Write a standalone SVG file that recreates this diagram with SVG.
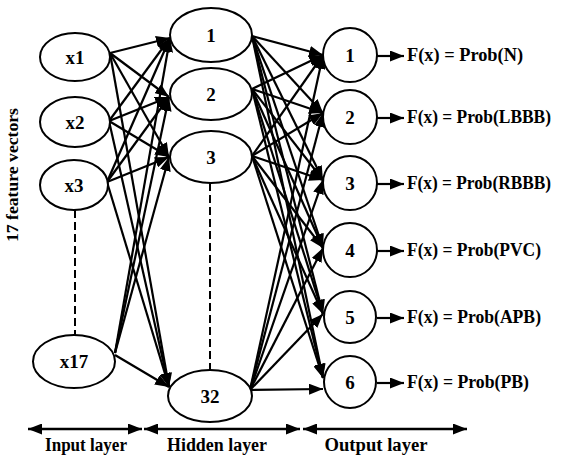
<svg xmlns="http://www.w3.org/2000/svg" width="563" height="458" viewBox="0 0 563 458">
  <defs>
    <marker id="ah" viewBox="0 0 14 11" refX="14" refY="5.5" markerWidth="14" markerHeight="11" markerUnits="userSpaceOnUse" orient="auto-start-reverse">
      <path d="M0,0 L14,5.5 L0,11 z" fill="#000"/>
    </marker>
    <marker id="ahs" viewBox="0 0 14 11" refX="14" refY="5.5" markerWidth="14" markerHeight="11" markerUnits="userSpaceOnUse" orient="auto-start-reverse">
      <path d="M0,0 L14,5.5 L0,11 z" fill="#000"/>
    </marker>
  </defs>
  <style>
    .node { fill: #fff; stroke: #000; stroke-width: 2; }
    text { font-family: "Liberation Serif", serif; font-weight: bold; fill: #000; }
    .lbl { font-size: 19px; text-anchor: middle; }
    .out { font-size: 18px; }
    .layer { font-size: 18px; text-anchor: middle; }
    .edge { stroke: #000; stroke-width: 2.2; fill: none; marker-end: url(#ah); }
    .dash { stroke: #000; stroke-width: 2; stroke-dasharray: 8 4; fill: none; }
    .axis { stroke: #000; stroke-width: 2.5; fill: none; marker-start: url(#ahs); marker-end: url(#ahs); }
  </style>
  <rect width="563" height="458" fill="#fff"/>

  <!-- connectors -->
  <g id="connectors">
    <!-- input to hidden -->
    <line class="edge" x1="110" y1="53" x2="170" y2="38"/>
    <line class="edge" x1="110" y1="53" x2="169" y2="97"/>
    <line class="edge" x1="110" y1="53" x2="169" y2="157"/>
    <line class="edge" x1="110" y1="53" x2="169" y2="387"/>
    <line class="edge" x1="109" y1="121" x2="170" y2="38"/>
    <line class="edge" x1="109" y1="121" x2="169" y2="97"/>
    <line class="edge" x1="109" y1="121" x2="169" y2="157"/>
    <line class="edge" x1="109" y1="121" x2="169" y2="387"/>
    <line class="edge" x1="107" y1="182" x2="170" y2="38"/>
    <line class="edge" x1="107" y1="182" x2="169" y2="97"/>
    <line class="edge" x1="107" y1="182" x2="169" y2="157"/>
    <line class="edge" x1="107" y1="182" x2="169" y2="387"/>
    <line class="edge" x1="115" y1="353" x2="170" y2="38"/>
    <line class="edge" x1="115" y1="353" x2="169" y2="97"/>
    <line class="edge" x1="115" y1="353" x2="169" y2="157"/>
    <line class="edge" x1="115" y1="355" x2="169" y2="387"/>
    <!-- hidden to output -->
    <line class="edge" x1="252" y1="36" x2="323" y2="55"/>
    <line class="edge" x1="252" y1="36" x2="323" y2="113"/>
    <line class="edge" x1="252" y1="36" x2="323" y2="180"/>
    <line class="edge" x1="252" y1="36" x2="323" y2="248"/>
    <line class="edge" x1="252" y1="36" x2="323" y2="314"/>
    <line class="edge" x1="252" y1="36" x2="323" y2="378"/>
    <line class="edge" x1="252" y1="89" x2="323" y2="55"/>
    <line class="edge" x1="252" y1="89" x2="323" y2="113"/>
    <line class="edge" x1="252" y1="89" x2="323" y2="180"/>
    <line class="edge" x1="252" y1="89" x2="323" y2="248"/>
    <line class="edge" x1="252" y1="89" x2="323" y2="314"/>
    <line class="edge" x1="252" y1="89" x2="323" y2="378"/>
    <line class="edge" x1="252" y1="156" x2="323" y2="55"/>
    <line class="edge" x1="252" y1="156" x2="323" y2="113"/>
    <line class="edge" x1="252" y1="156" x2="323" y2="180"/>
    <line class="edge" x1="252" y1="156" x2="323" y2="248"/>
    <line class="edge" x1="252" y1="156" x2="323" y2="314"/>
    <line class="edge" x1="252" y1="156" x2="323" y2="378"/>
    <line class="edge" x1="250" y1="390" x2="323" y2="55"/>
    <line class="edge" x1="250" y1="390" x2="323" y2="113"/>
    <line class="edge" x1="250" y1="390" x2="323" y2="180"/>
    <line class="edge" x1="250" y1="390" x2="323" y2="248"/>
    <line class="edge" x1="250" y1="390" x2="323" y2="314"/>
    <line class="edge" x1="250" y1="390" x2="323" y2="389"/>
    <!-- output arrows -->
    <line class="edge" x1="377" y1="56" x2="404" y2="56"/>
    <line class="edge" x1="377" y1="118" x2="404" y2="118"/>
    <line class="edge" x1="377" y1="184" x2="404" y2="184"/>
    <line class="edge" x1="377" y1="251" x2="404" y2="251"/>
    <line class="edge" x1="377" y1="318" x2="404" y2="318"/>
    <line class="edge" x1="377" y1="383" x2="404" y2="383"/>
    <!-- elided neurons -->
    <line class="dash" x1="75" y1="210" x2="75" y2="335"/>
    <line class="dash" x1="210" y1="183" x2="210" y2="370"/>
    <!-- layer spans -->
    <line class="axis" x1="28" y1="429" x2="142" y2="429"/>
    <line class="axis" x1="144" y1="429" x2="300" y2="429"/>
    <line class="axis" x1="303" y1="429" x2="467" y2="429"/>
  </g>

  <!-- input layer -->
  <g id="in-x1"><ellipse class="node" cx="75" cy="57" rx="35" ry="24"/><text class="lbl" x="75" y="63.5">x1</text></g>
  <g id="in-x2"><ellipse class="node" cx="75" cy="122" rx="35" ry="25"/><text class="lbl" x="75" y="128.5">x2</text></g>
  <g id="in-x3"><ellipse class="node" cx="74" cy="185" rx="34" ry="25"/><text class="lbl" x="74" y="191.5">x3</text></g>
  <g id="in-x17"><ellipse class="node" cx="74" cy="361.5" rx="41" ry="26.5"/><text class="lbl" x="74" y="368">x17</text></g>

  <!-- hidden layer -->
  <g id="hid-1"><ellipse class="node" cx="211" cy="35" rx="41" ry="27"/><text class="lbl" x="211" y="42">1</text></g>
  <g id="hid-2"><ellipse class="node" cx="211" cy="94" rx="41" ry="26"/><text class="lbl" x="211" y="101">2</text></g>
  <g id="hid-3"><ellipse class="node" cx="211" cy="157" rx="41" ry="26"/><text class="lbl" x="211" y="164">3</text></g>
  <g id="hid-32"><ellipse class="node" cx="210" cy="396" rx="42" ry="26"/><text class="lbl" x="210" y="403">32</text></g>

  <!-- output layer -->
  <g id="out-1"><circle class="node" cx="350" cy="55" r="27"/><text class="lbl" x="350" y="62">1</text><text class="out" x="407" y="61" textLength="116" lengthAdjust="spacingAndGlyphs">F(x) = Prob(N)</text></g>
  <g id="out-2"><circle class="node" cx="350" cy="117" r="27"/><text class="lbl" x="350" y="124">2</text><text class="out" x="407" y="123" textLength="144" lengthAdjust="spacingAndGlyphs">F(x) = Prob(LBBB)</text></g>
  <g id="out-3"><circle class="node" cx="350" cy="183" r="27"/><text class="lbl" x="350" y="190">3</text><text class="out" x="407" y="189" textLength="144" lengthAdjust="spacingAndGlyphs">F(x) = Prob(RBBB)</text></g>
  <g id="out-4"><circle class="node" cx="350" cy="250" r="27"/><text class="lbl" x="350" y="257">4</text><text class="out" x="407" y="256" textLength="134" lengthAdjust="spacingAndGlyphs">F(x) = Prob(PVC)</text></g>
  <g id="out-5"><circle class="node" cx="350" cy="317" r="26"/><text class="lbl" x="350" y="324">5</text><text class="out" x="407" y="323" textLength="134" lengthAdjust="spacingAndGlyphs">F(x) = Prob(APB)</text></g>
  <g id="out-6"><circle class="node" cx="350" cy="382" r="26"/><text class="lbl" x="350" y="389">6</text><text class="out" x="407" y="388" textLength="122" lengthAdjust="spacingAndGlyphs">F(x) = Prob(PB)</text></g>

  <!-- captions -->
  <text class="layer" transform="translate(18,175) rotate(-90)" style="font-size:17px" textLength="134" lengthAdjust="spacingAndGlyphs">17 feature vectors</text>
  <text class="layer" x="86" y="451" textLength="82" lengthAdjust="spacingAndGlyphs">Input layer</text>
  <text class="layer" x="217" y="451" textLength="100" lengthAdjust="spacingAndGlyphs">Hidden layer</text>
  <text class="layer" x="376" y="451" textLength="103" lengthAdjust="spacingAndGlyphs">Output layer</text>
</svg>
